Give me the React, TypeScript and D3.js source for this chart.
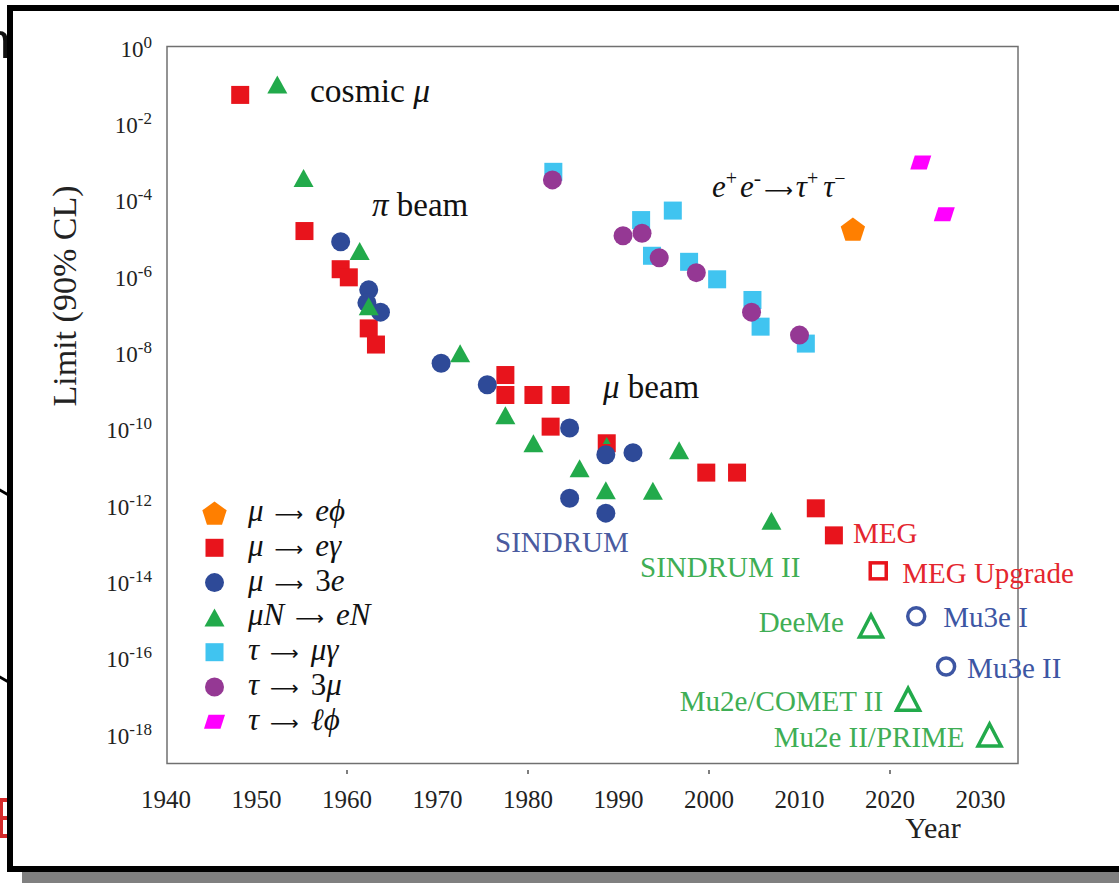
import React from 'react';
import * as d3 from 'd3';

// ---------- data (year, 90% CL upper limit) ----------
const yearTicks = [1940, 1950, 1960, 1970, 1980, 1990, 2000, 2010, 2020, 2030];
const yearTickMarks = [1960, 1980, 2000, 2020];
const limitExponents = [0, -2, -4, -6, -8, -10, -12, -14, -16, -18];

const muEGamma: [number, number][] = [
  [1948.2, 5.9e-2], [1955.3, 1.6e-5], [1959.3, 1.6e-6], [1960.2, 9.8e-7], [1962.4, 4.5e-8],
  [1963.2, 1.7e-8], [1977.5, 2.7e-9], [1977.5, 8.1e-10], [1980.6, 8.1e-10], [1983.6, 8.1e-10],
  [1982.5, 1.2e-10], [1988.7, 4.4e-11], [1999.7, 7.5e-12], [2003.1, 7.5e-12], [2011.8, 8.7e-13],
  [2013.8, 1.7e-13],
];
const mu3e: [number, number][] = [
  [1959.3, 8.4e-6], [1962.4, 4.6e-7], [1962.2, 2.1e-7], [1963.7, 1.2e-7], [1970.4, 5.5e-9],
  [1975.5, 1.5e-9], [1984.6, 1.1e-10], [1988.6, 2.2e-11], [1991.6, 2.5e-11], [1984.6, 1.6e-12],
  [1988.6, 6.5e-13],
];
const muNeN: [number, number][] = [
  [1952.3, 1.1e-1], [1955.2, 3.9e-4], [1961.4, 4.8e-6], [1962.4, 1.7e-7], [1972.5, 1.0e-8],
  [1977.5, 2.4e-10], [1980.6, 4.4e-11], [1985.7, 9.7e-12], [1988.6, 2.6e-12], [1993.8, 2.5e-12],
  [1996.7, 2.9e-11], [2006.9, 4.1e-13],
];
const muNeNSmall: [number, number][] = [[1988.7, 5.2e-11]];
const tauMuGamma: [number, number][] = [
  [1982.8, 5.7e-4], [1992.5, 3.1e-5], [1996.0, 5.5e-5], [1993.7, 3.6e-6], [1997.8, 2.5e-6],
  [2000.9, 8.7e-7], [2004.8, 2.5e-7], [2005.7, 5.0e-8], [2010.7, 1.8e-8],
];
const tau3Mu: [number, number][] = [
  [1982.7, 3.5e-4], [1990.5, 1.2e-5], [1992.6, 1.4e-5], [1994.5, 3.2e-6], [1998.6, 1.3e-6],
  [2004.7, 1.2e-7], [2010.0, 3.0e-8],
];
const muEPhi: [number, number][] = [[2015.9, 1.8e-5]];
const tauLPhi: [number, number][] = [[2023.4, 1.0e-3], [2026.0, 4.4e-5]];

// future projections
const megFuture: [number, number, string][] = [[2018.7, 2.0e-14, 'MEG Upgrade']];
const mu3eFuture: [number, number, string][] = [[2022.9, 1.3e-15, 'Mu3e I'], [2026.2, 6.2e-17, 'Mu3e II']];
const muNeNFuture: [number, number, string][] = [
  [2017.9, 7.2e-16, 'DeeMe'], [2022.0, 8.6e-18, 'Mu2e/COMET II'], [2031.0, 1.0e-18, 'Mu2e II/PRIME'],
];

// ---------- style ----------
const SERIF = '"Liberation Serif", "Times New Roman", "DejaVu Serif", serif';
const ARROW_FONT = '"DejaVu Sans", sans-serif';
const C = {
  red: '#e8141c', blue: '#2e4a98', green: '#22aa4b', cyan: '#40c4f0',
  purple: '#953894', orange: '#ff7f00', magenta: '#ff00ff',
  tBlue: '#4a5b9f', tGreen: '#3fae55', tRed: '#e4262e', tMu3e: '#3d56a3',
};

type Shape = 'square' | 'circle' | 'triangle' | 'pentagon' | 'para';

function Marker({ shape, cx, cy, fill, scale = 1, open = false }: any) {
  const s = scale;
  const common = open
    ? { fill: 'none', stroke: fill, strokeWidth: 3.5 }
    : { fill };
  if (shape === 'square') {
    const a = open ? 16 : 18 * s;
    return <rect x={cx - a / 2} y={cy - a / 2} width={a} height={a} {...common} />;
  }
  if (shape === 'circle') {
    return <circle cx={cx} cy={cy} r={open ? 8.5 : 9.5 * s} {...common} />;
  }
  if (shape === 'triangle') {
    const d = open
      ? `M0,-11L11.5,11L-11.5,11Z`
      : `M0,${-9 * s}L${10 * s},${9 * s}L${-10 * s},${9 * s}Z`;
    return <path transform={`translate(${cx},${cy})`} d={d} {...common} strokeLinejoin="miter" />;
  }
  if (shape === 'pentagon') {
    const r = 12.8 * s;
    const pts = d3.range(5).map((i) => {
      const a = -Math.PI / 2 + (i * 2 * Math.PI) / 5;
      return [r * Math.cos(a), r * Math.sin(a) + 1.3 * s];
    });
    return <path transform={`translate(${cx},${cy})`} d={d3.line()(pts as any) + 'Z'} {...common} />;
  }
  const d = `M${-6},-7L10.5,-7L6,7L-10.5,7Z`;
  return <path transform={`translate(${cx},${cy})`} d={d} {...common} />;
}

const legendItems: { shape: Shape; color: string; lhs: [string, boolean][]; rhs: [string, boolean][] }[] = [
  { shape: 'pentagon', color: C.orange, lhs: [['μ', true]], rhs: [['e', true], ['ϕ', true]] },
  { shape: 'square', color: C.red, lhs: [['μ', true]], rhs: [['eγ', true]] },
  { shape: 'circle', color: C.blue, lhs: [['μ', true]], rhs: [['3', false], ['e', true]] },
  { shape: 'triangle', color: C.green, lhs: [['μN', true]], rhs: [['eN', true]] },
  { shape: 'square', color: C.cyan, lhs: [['τ', true]], rhs: [['μγ', true]] },
  { shape: 'circle', color: C.purple, lhs: [['τ', true]], rhs: [['3', false], ['μ', true]] },
  { shape: 'para', color: C.magenta, lhs: [['τ', true]], rhs: [['ℓ', true], ['ϕ', true]] },
];

export default function App() {
  const W = 1119, H = 883;
  const x = d3.scaleLinear().domain([1940, 2030]).range([166, 980.5]);
  const y = d3.scaleLog().domain([1, 1e-18]).range([48, 735]);
  const box = { x0: 167, y0: 46.5, x1: 1018, y1: 763.5 };

  const series: { data: [number, number][]; shape: Shape; color: string; scale?: number }[] = [
    { data: tauMuGamma, shape: 'square', color: C.cyan },
    { data: muEGamma, shape: 'square', color: C.red },
    { data: muNeNSmall, shape: 'triangle', color: C.green, scale: 0.4 },
    { data: mu3e, shape: 'circle', color: C.blue },
    { data: muNeN, shape: 'triangle', color: C.green },
    { data: tau3Mu, shape: 'circle', color: C.purple },
    { data: muEPhi, shape: 'pentagon', color: C.orange },
    { data: tauLPhi, shape: 'para', color: C.magenta },
  ];

  const legendY0 = 513, legendStep = 34.8;

  return (
    <svg width={W} height={H} style={{ position: 'absolute', left: 0, top: 0, background: '#fff' }}
      fontFamily={SERIF}>
      {/* slide background pieces outside the frame */}
      <text x={-17} y={58} fontSize={50} fontFamily='"Liberation Sans", sans-serif' fill="#111">n</text>
      <line x1={-2} y1={489} x2={12} y2={497} stroke="#000" strokeWidth={3} />
      <line x1={-2} y1={676} x2={12} y2={684} stroke="#000" strokeWidth={3} />
      <g stroke="#d42a2a" strokeWidth={4}>
        <line x1={0} y1={800} x2={9} y2={800} />
        <line x1={0} y1={818} x2={9} y2={818} />
        <line x1={0} y1={836} x2={9} y2={836} />
        <line x1={1} y1={798} x2={1} y2={838} />
      </g>
      {/* shadow and frame */}
      <rect x={22} y={872} width={1200} height={12} fill="#808080" />
      <rect x={10} y={8} width={1250} height={861} fill="#fff" stroke="#000" strokeWidth={6} />

      {/* plot box */}
      <rect x={box.x0} y={box.y0} width={box.x1 - box.x0} height={box.y1 - box.y0}
        fill="none" stroke="#707070" strokeWidth={1.5} />

      {/* x ticks */}
      {yearTickMarks.map((t) => (
        <line key={t} x1={x(t)} x2={x(t)} y1={770} y2={774} stroke="#555" strokeWidth={1.5} />
      ))}
      {yearTicks.map((t) => (
        <text key={t} x={x(t)} y={808} fontSize={25} textAnchor="middle" fill="#222">{t}</text>
      ))}
      <text x={933} y={838} fontSize={30} textAnchor="middle" fill="#222">Year</text>

      {/* y ticks */}
      {limitExponents.map((e) => (
        <text key={e} x={152} y={y(Math.pow(10, e)) + 8.5} fontSize={23} textAnchor="end" fill="#222">
          10<tspan fontSize={17} dy={-9}>{e === 0 ? '0' : `-${-e}`}</tspan>
        </text>
      ))}
      <text transform="translate(76,296) rotate(-90)" fontSize={34} textAnchor="middle" fill="#222">
        Limit (90% CL)
      </text>

      {/* data */}
      {series.map((s, i) => (
        <g key={i}>
          {s.data.map((d, j) => (
            <Marker key={j} shape={s.shape} cx={x(d[0])} cy={y(d[1])} fill={s.color} scale={s.scale ?? 1} />
          ))}
        </g>
      ))}

      {/* future projections */}
      {megFuture.map((d) => (
        <g key={d[2]}>
          <Marker shape="square" open cx={x(d[0])} cy={y(d[1])} fill={C.red} />
          <text x={x(d[0]) + 24} y={y(d[1]) + 12} fontSize={29} fill={C.tRed}>{d[2]}</text>
        </g>
      ))}
      {mu3eFuture.map((d, i) => (
        <g key={d[2]}>
          <Marker shape="circle" open cx={x(d[0])} cy={y(d[1])} fill={C.tMu3e} />
          <text x={x(d[0]) + (i === 0 ? 27 : 21)} y={y(d[1]) + 11} fontSize={29} fill={C.tMu3e}>{d[2]}</text>
        </g>
      ))}
      {muNeNFuture.map((d, i) => (
        <g key={d[2]}>
          <Marker shape="triangle" open cx={x(d[0])} cy={y(d[1])} fill={C.green} />
          <text x={x(d[0]) - (i === 0 ? 27 : 25)} y={y(d[1]) + (i === 0 ? 6 : 12)} fontSize={29}
            textAnchor="end" fill={C.tGreen}>{d[2]}</text>
        </g>
      ))}

      {/* annotations */}
      <text x={310} y={102} fontSize={33.5} fill="#111">cosmic <tspan fontStyle="italic">μ</tspan></text>
      <text x={372} y={216} fontSize={33} fill="#111"><tspan fontStyle="italic">π</tspan> beam</text>
      <text x={603} y={398} fontSize={33} fill="#111"><tspan fontStyle="italic">μ</tspan> beam</text>
      <text x={712} y={197} fontSize={31} fill="#111">
        <tspan fontStyle="italic">e</tspan>
        <tspan fontSize={20} dy={-12}>+</tspan>
        <tspan fontStyle="italic" dy={12} dx={3}>e</tspan>
        <tspan fontSize={22} dy={-12}>-</tspan>
        <tspan dy={12} dx={3} fontFamily={ARROW_FONT} fontSize={20}>⟶</tspan>
        <tspan fontStyle="italic" dx={3}>τ</tspan>
        <tspan fontSize={20} dy={-12}>+</tspan>
        <tspan fontStyle="italic" dy={12} dx={5}>τ</tspan>
        <tspan fontSize={20} dy={-12}>−</tspan>
      </text>
      <text x={495} y={552} fontSize={29} fill={C.tBlue}>SINDRUM</text>
      <text x={640} y={577} fontSize={29} fill={C.tGreen}>SINDRUM II</text>
      <text x={853} y={543} fontSize={29} fill={C.tRed}>MEG</text>

      {/* legend */}
      {legendItems.map((it, i) => {
        const cy = legendY0 + i * legendStep;
        return (
          <g key={i}>
            <Marker shape={it.shape} cx={214.5} cy={cy} fill={it.color} />
            <text x={248} y={cy + 8} fontSize={31} fill="#111">
              {it.lhs.map((p, k) => (
                <tspan key={'l' + k} fontStyle={p[1] ? 'italic' : 'normal'}>{p[0]}</tspan>
              ))}
              <tspan dx={11} fontFamily={ARROW_FONT} fontSize={20}>⟶</tspan>
              {it.rhs.map((p, k) => (
                <tspan key={'r' + k} dx={k === 0 ? 12 : 0} fontStyle={p[1] ? 'italic' : 'normal'}>{p[0]}</tspan>
              ))}
            </text>
          </g>
        );
      })}
    </svg>
  );
}
